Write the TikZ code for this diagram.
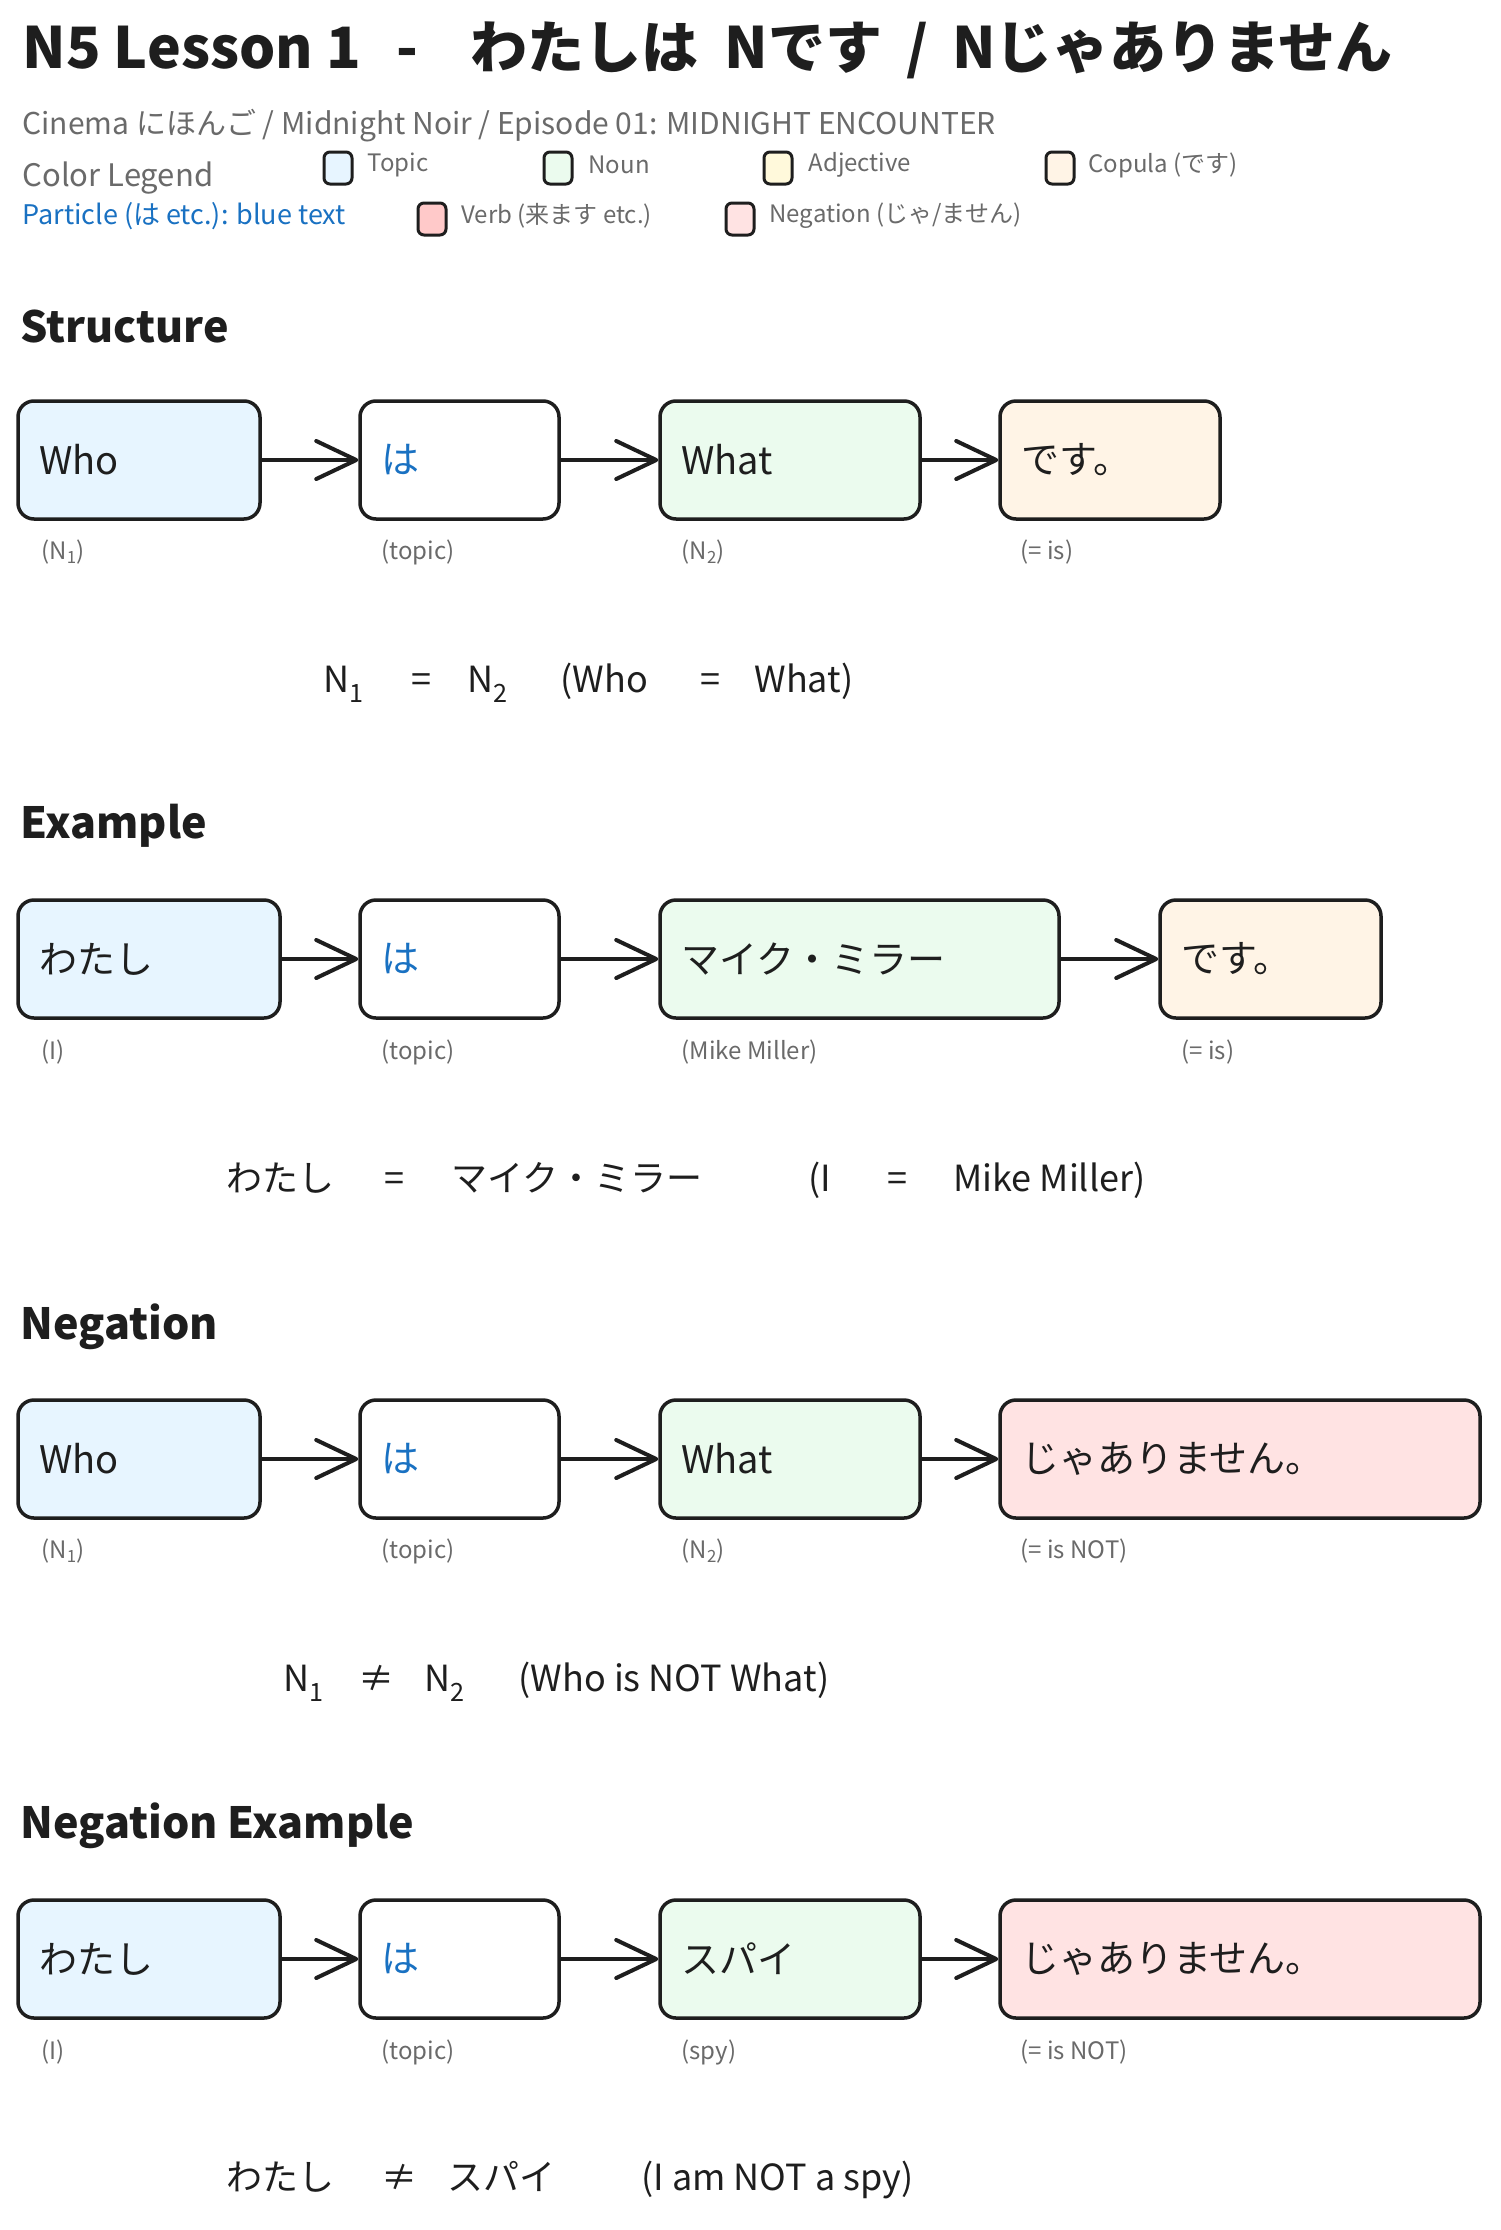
\documentclass[tikz,border=0pt]{standalone}
\usepackage{fontspec}
\setmainfont{Noto Sans CJK JP}
\usetikzlibrary{arrows.meta}
\definecolor{ink}{HTML}{1E1E1E}
\definecolor{labgray}{HTML}{6A6A6A}
\definecolor{partblue}{HTML}{1971C2}
\definecolor{topicbg}{HTML}{E7F5FF}
\definecolor{nounbg}{HTML}{EBFBEE}
\definecolor{adjbg}{HTML}{FFF9DB}
\definecolor{copbg}{HTML}{FFF4E6}
\definecolor{verbbg}{HTML}{FFC9C9}
\definecolor{negbg}{HTML}{FFE3E3}
\newcommand\seg[2]{\makebox[#1][l]{#2}}
\begin{document}
\begin{tikzpicture}[x=1pt,y=-1pt,
 box/.style={draw=ink,line width=3.5pt,rounded corners=16pt,minimum height=118pt,
             inner xsep=21pt,align=left,text=ink,font=\fontsize{38}{44}\selectfont},
 bw/.style={minimum width=#1,text width=#1-42pt},
 arr/.style={draw=ink,line width=4pt,line cap=round,
             -{Straight Barb[length=40pt,width=38pt,round]}},
 sub/.style={anchor=west,text=labgray,font=\fontsize{24}{28}\selectfont},
 head/.style={anchor=west,text=ink,font=\fontsize{43}{50}\selectfont\bfseries},
 eqn/.style={anchor=west,text=ink,font=\fontsize{36}{42}\selectfont},
 sw/.style={draw=ink,line width=3pt,rounded corners=6pt,minimum width=28pt,
            minimum height=32pt,inner sep=0pt},
 leg/.style={anchor=west,text=labgray,font=\fontsize{24}{28}\selectfont}]
 \fill[white] (0,0) rectangle (1500,2230);
 \useasboundingbox (0,0) rectangle (1500,2230);
 \node[anchor=west,text=ink,font=\fontsize{57}{64}\selectfont\bfseries] (title) at (19,50)
  {N5 Lesson 1\hspace{36pt}-\hspace{52pt}わたしは\hspace{26pt}Nです\hspace{24pt}/\hspace{24pt}Nじゃありません};
 \node[leg,font=\fontsize{30}{36}\selectfont] (subt) at (19,126)
  {Cinema にほんご / Midnight Noir / Episode 01: MIDNIGHT ENCOUNTER};
 \node[leg,font=\fontsize{31}{36}\selectfont] (cleg) at (19,178) {Color Legend};
 \node[sw,fill=topicbg] (swt) at (338,168) {};
 \node[leg] (lt) at (364,165) {Topic};
 \node[sw,fill=nounbg] (swn) at (558,168) {};
 \node[leg] (ln) at (585,165) {Noun};
 \node[sw,fill=adjbg] (swa) at (778,168) {};
 \node[leg] (la) at (805,165) {Adjective};
 \node[sw,fill=copbg] (swc) at (1060,168) {};
 \node[leg] (lc) at (1085,165) {Copula (です)};
 \node[leg,text=partblue,font=\fontsize{27}{32}\selectfont] (lp) at (19,216) {Particle (は etc.): blue text};
 \node[sw,fill=verbbg] (swv) at (432,219) {};
 \node[leg] (lv) at (458,216) {Verb (来ます etc.)};
 \node[sw,fill=negbg] (swg) at (740,219) {};
 \node[leg] (lg) at (766,216) {Negation (じゃ/ません)};

 \node[head] (h1) at (17,326) {Structure};
 \node[box,bw=242pt,fill=topicbg] (who1) at (139,460) {Who};
 \node[box,bw=199pt,fill=white,text=partblue] (wa1) at (459.5,460) {は};
 \node[box,bw=260pt,fill=nounbg] (what1) at (790,460) {What};
 \node[box,bw=220pt,fill=copbg] (desu1) at (1110,460) {です。};
 \node[sub] (s11) at (38,552) {(N\textsubscript{1})};
 \node[sub] (s12) at (378,552) {(topic)};
 \node[sub] (s13) at (678,552) {(N\textsubscript{2})};
 \node[sub] (s14) at (1017,552) {(= is)};
 \node[eqn] (eq1) at (320,683)
  {\seg{88pt}{N\textsubscript{1}}\seg{56pt}{=}\seg{93pt}{N\textsubscript{2}}\seg{140pt}{(Who}\seg{54pt}{=}What)};

 \node[head] (h2) at (17,826) {Example};
 \node[box,bw=262pt,fill=topicbg] (wtsh2) at (149,959) {わたし};
 \node[box,bw=199pt,fill=white,text=partblue] (wa2) at (459.5,959) {は};
 \node[box,bw=399pt,fill=nounbg] (mike2) at (859.5,959) {マイク・ミラー};
 \node[box,bw=221pt,fill=copbg] (desu2) at (1270.5,959) {です。};
 \node[sub] (s21) at (38,1052) {(I)};
 \node[sub] (s22) at (378,1052) {(topic)};
 \node[sub] (s23) at (678,1052) {(Mike Miller)};
 \node[sub] (s24) at (1178,1052) {(= is)};
 \node[eqn] (eq2) at (223,1180)
  {\seg{158pt}{わたし}\seg{67pt}{=}\seg{357pt}{マイク・ミラー}\seg{79pt}{(I}\seg{66pt}{=}Mike Miller)};

 \node[head] (h3) at (17,1327) {Negation};
 \node[box,bw=242pt,fill=topicbg] (who3) at (139,1459) {Who};
 \node[box,bw=199pt,fill=white,text=partblue] (wa3) at (459.5,1459) {は};
 \node[box,bw=260pt,fill=nounbg] (what3) at (790,1459) {What};
 \node[box,bw=480pt,fill=negbg] (neg3) at (1240,1459) {じゃありません。};
 \node[sub] (s31) at (38,1551) {(N\textsubscript{1})};
 \node[sub] (s32) at (378,1551) {(topic)};
 \node[sub] (s33) at (678,1551) {(N\textsubscript{2})};
 \node[sub] (s34) at (1017,1551) {(= is NOT)};
 \node[eqn] (eq3) at (280,1682)
  {\seg{75pt}{N\textsubscript{1}}\seg{66pt}{≠}\seg{94pt}{N\textsubscript{2}}(Who is NOT What)};

 \node[head] (h4) at (17,1826) {Negation Example};
 \node[box,bw=262pt,fill=topicbg] (wtsh4) at (149,1959) {わたし};
 \node[box,bw=199pt,fill=white,text=partblue] (wa4) at (459.5,1959) {は};
 \node[box,bw=260pt,fill=nounbg] (spy4) at (790,1959) {スパイ};
 \node[box,bw=480pt,fill=negbg] (neg4) at (1240,1959) {じゃありません。};
 \node[sub] (s41) at (38,2052) {(I)};
 \node[sub] (s42) at (378,2052) {(topic)};
 \node[sub] (s43) at (678,2052) {(spy)};
 \node[sub] (s44) at (1017,2052) {(= is NOT)};
 \node[eqn] (eq4) at (223,2180)
  {\seg{155pt}{わたし}\seg{66pt}{≠}\seg{194pt}{スパイ}(I am NOT a spy)};

 \foreach \a/\b in {who1/wa1,wa1/what1,what1/desu1,wtsh2/wa2,wa2/mike2,mike2/desu2,
                    who3/wa3,wa3/what3,what3/neg3,wtsh4/wa4,wa4/spy4,spy4/neg4}
  \draw[arr] (\a) -- (\b);
\end{tikzpicture}
\end{document}
